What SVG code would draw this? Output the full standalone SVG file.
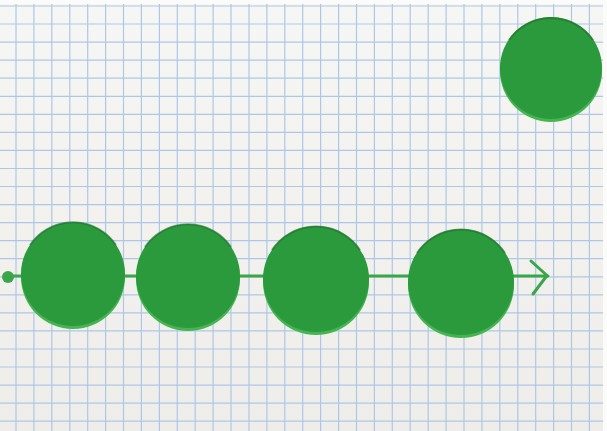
<svg xmlns="http://www.w3.org/2000/svg" width="607" height="431" viewBox="0 0 607 431">
<defs>
<style>
.grid{stroke:#adc8e6;stroke-width:1.2;fill:none}
.rim{fill:#45b552}
.disc{fill:#2b9a3c}
.shade{fill:none;stroke:#1f6e2c;stroke-width:2;stroke-opacity:0.6}
.line{stroke:#3aa549;stroke-width:3;fill:none;stroke-linecap:round;stroke-linejoin:round}
</style>
<linearGradient id="paper" x1="0" y1="0" x2="0" y2="1">
<stop offset="0" stop-color="#f6f6f4"/>
<stop offset="1" stop-color="#efede9"/>
</linearGradient>
</defs>
<rect width="607" height="431" fill="url(#paper)"/>
<path class="grid" d="M16 0V431M33.9 0V431M51.8 0V431M69.8 0V431M87.7 0V431M105.6 0V431M123.5 0V431M141.4 0V431M159.4 0V431M177.3 0V431M195.2 0V431M213.1 0V431M231 0V431M249 0V431M266.9 0V431M284.8 0V431M302.7 0V431M320.6 0V431M338.6 0V431M356.5 0V431M374.4 0V431M392.3 0V431M410.2 0V431M428.2 0V431M446.1 0V431M464 0V431M481.9 0V431M499.8 0V431M517.8 0V431M535.7 0V431M553.6 0V431M571.5 0V431M589.4 0V431
M0 6H607M0 24H607M0 42.1H607M0 60.2H607M0 78.2H607M0 96.3H607M0 114.3H607M0 132.4H607M0 150.4H607M0 168.5H607M0 186.5H607M0 204.6H607M0 222.6H607M0 240.7H607M0 258.7H607M0 276.8H607M0 294.8H607M0 312.9H607M0 330.9H607M0 349H607M0 367H607M0 385.1H607M0 403.1H607M0 421.2H607"/>
<rect x="0" y="0" width="607" height="4" fill="#fbfbfa"/>
<rect x="603" y="0" width="4" height="431" fill="#fbfbfa"/>
<g id="connectors">
<path class="line" d="M8 276H548"/>
<path class="line" d="M531 261L547 275.5L533 294"/>
<circle cx="8" cy="277" r="6" fill="#3aa549"/>
</g>
<g id="disc1">
<circle class="rim" cx="73" cy="277" r="52"/>
<circle class="disc" cx="73" cy="274" r="52"/>
<path class="shade" d="M30 245A52 52 0 0 1 116 245"/>
</g>
<g id="disc2">
<circle class="rim" cx="188" cy="279" r="52"/>
<circle class="disc" cx="188" cy="276" r="52"/>
<path class="shade" d="M145 247A52 52 0 0 1 231 247"/>
</g>
<g id="disc3">
<circle class="rim" cx="316" cy="282" r="53"/>
<circle class="disc" cx="316" cy="279" r="53"/>
<path class="shade" d="M272 250A53 53 0 0 1 360 250"/>
</g>
<g id="disc4">
<circle class="rim" cx="461" cy="285" r="53"/>
<circle class="disc" cx="461" cy="282" r="53"/>
<path class="shade" d="M417 253A53 53 0 0 1 505 253"/>
</g>
<g id="disc5">
<circle class="rim" cx="551" cy="71" r="51"/>
<circle class="disc" cx="551" cy="68" r="51"/>
<path class="shade" d="M509 40A51 51 0 0 1 593 40"/>
</g>
</svg>
